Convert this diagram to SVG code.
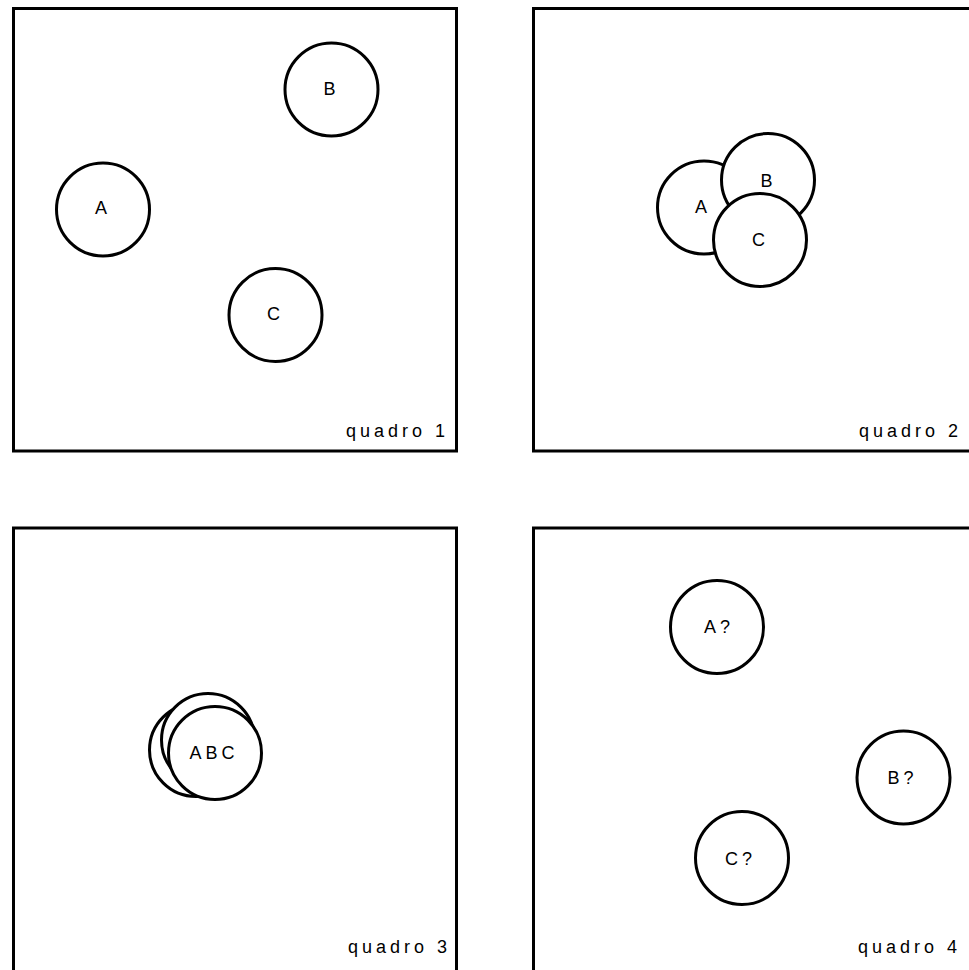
<svg xmlns="http://www.w3.org/2000/svg" width="969" height="970" viewBox="0 0 969 970">
<style>
.frame{fill:#fff;stroke:#000;stroke-width:3}
.c{fill:#fff;stroke:#000;stroke-width:3}
.t{font-family:"Liberation Sans",Arial,sans-serif;font-size:18px;fill:#000;text-anchor:middle;letter-spacing:4px}
.q{font-family:"Liberation Sans",Arial,sans-serif;font-size:18px;fill:#000;text-anchor:end;letter-spacing:4px}
</style>
<rect width="969" height="970" fill="#fff"/>
<g id="quadro1">
<rect class="frame" x="13.5" y="8.5" width="443" height="442.5"/>
<text class="q" x="449" y="437">quadro 1</text>
<g id="q1A"><circle class="c" cx="103" cy="209.5" r="46.5"/><text class="t" x="103" y="214">A</text></g>
<g id="q1B"><circle class="c" cx="331.5" cy="89.5" r="46.5"/><text class="t" x="331.5" y="95">B</text></g>
<g id="q1C"><circle class="c" cx="275.5" cy="315" r="46.5"/><text class="t" x="275.5" y="320">C</text></g>
</g>
<g id="quadro2">
<rect class="frame" x="533.5" y="8.5" width="443" height="442.5"/>
<text class="q" x="962" y="437">quadro 2</text>
<g id="q2A"><circle class="c" cx="704" cy="207.5" r="46.5"/><text class="t" x="703" y="213">A</text></g>
<g id="q2B"><circle class="c" cx="768" cy="180" r="46.5"/><text class="t" x="768.5" y="187">B</text></g>
<g id="q2C"><circle class="c" cx="760" cy="240" r="46.5"/><text class="t" x="760.5" y="246">C</text></g>
</g>
<g id="quadro3">
<rect class="frame" x="13.5" y="528" width="443" height="446"/>
<text class="q" x="451" y="953">quadro 3</text>
<g id="q3ABC">
<circle class="c" cx="196" cy="750" r="46.5"/>
<circle class="c" cx="208" cy="740" r="46.5"/>
<circle class="c" cx="215" cy="753" r="46.5"/>
<text class="t" x="214" y="759">ABC</text>
</g>
</g>
<g id="quadro4">
<rect class="frame" x="533.5" y="528" width="443" height="446"/>
<text class="q" x="961" y="953">quadro 4</text>
<g id="q4A"><circle class="c" cx="717" cy="627" r="46.5"/><text class="t" x="719" y="633">A?</text></g>
<g id="q4B"><circle class="c" cx="903.5" cy="777.5" r="46.5"/><text class="t" x="902.5" y="783.5">B?</text></g>
<g id="q4C"><circle class="c" cx="742" cy="858" r="46.5"/><text class="t" x="740.5" y="865">C?</text></g>
</g>
<g id="connectors"/>
</svg>
